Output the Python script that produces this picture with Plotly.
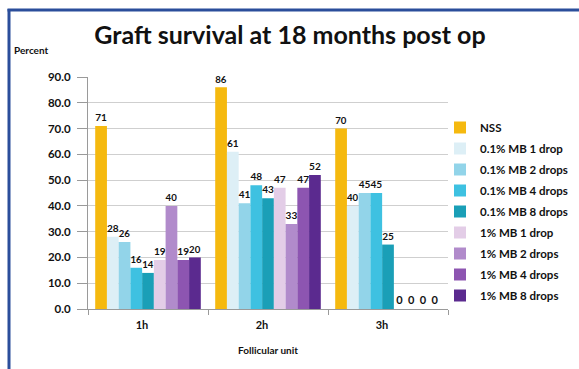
import plotly.graph_objects as go

categories = ["1h", "2h", "3h"]
series_names = ["NSS", "0.1% MB 1 drop", "0.1% MB 2 drops", "0.1% MB 4 drops",
                "0.1% MB 8 drops", "1% MB 1 drop", "1% MB 2 drops",
                "1% MB 4 drops", "1% MB 8 drops"]
nss = [71, 86, 70]
mb01_1 = [28, 61, 40]
mb01_2 = [26, 41, 45]
mb01_4 = [16, 48, 45]
mb01_8 = [14, 43, 25]
mb1_1 = [19, 47, 0]
mb1_2 = [40, 33, 0]
mb1_4 = [19, 47, 0]
mb1_8 = [20, 52, 0]
series_values = [nss, mb01_1, mb01_2, mb01_4, mb01_8, mb1_1, mb1_2, mb1_4, mb1_8]
colors = ["#F5B90F", "#DDEFF6", "#92D4E9", "#3EC1E1", "#1A9FB7",
          "#E3CDE7", "#B18BCB", "#8D55B1", "#5B2A8F"]
y_ticks = [0, 10, 20, 30, 40, 50, 60, 70, 80, 90]

FONT = "Lato"
fig = go.Figure()
for i, (name, vals, col) in enumerate(zip(series_names, series_values, colors)):
    fig.add_trace(go.Bar(
        x=categories, y=vals, name=name, marker=dict(color=col, line=dict(width=0)),
        text=[str(v) for v in vals], textposition="outside", cliponaxis=False,
        textfont=dict(family=FONT, size=11, color="#111111", weight="bold"),
        legendgroup=f"g{i}",
    ))

L, R, T, B = 88, 131, 77, 60
W, H = 579, 369
pw = W - L - R
ph = H - T - B

def px_x(x):
    return (x - L) / pw

def px_y(y):
    return (H - B - y) / ph

fig.update_layout(
    width=W, height=H,
    margin=dict(l=L, r=R, t=T, b=B, autoexpand=False),
    paper_bgcolor="white", plot_bgcolor="white",
    barmode="group", bargap=0.12, bargroupgap=0,
    font=dict(family=FONT, color="#111111"),
    title=dict(text="<b>Graft survival at 18 months post op</b>",
               font=dict(family=FONT, size=25, color="#111111"),
               x=290 / W, xref="container", xanchor="center", y=1 - 35 / H, yanchor="middle"),
    xaxis=dict(showgrid=False, showline=True, linecolor="#9a9a9a", linewidth=1,
               ticks="outside", tickson="boundaries", ticklen=5, tickcolor="#9a9a9a",
               tickfont=dict(family=FONT, size=11, weight="bold"),
               ticklabelstandoff=6, ticklabelshift=-6,
               title=dict(text="<b>Follicular unit</b>", font=dict(family=FONT, size=10),
                          standoff=16)),
    yaxis=dict(range=[0, 90], tickvals=y_ticks, tickformat=".1f",
               showgrid=True, gridcolor="#cfcfcf", gridwidth=1,
               showline=True, linecolor="#9a9a9a", linewidth=1,
               ticks="outside", ticklen=10, tickcolor="#9a9a9a",
               ticklabelstandoff=4,
               tickfont=dict(family=FONT, size=11.5, weight="bold"),
               zeroline=False),
    legend=dict(x=px_x(440), y=px_y(113), xanchor="left", yanchor="top",
                font=dict(family=FONT, size=11.5, weight="bold"),
                tracegroupgap=2, itemwidth=30, bgcolor="rgba(0,0,0,0)"),
    showlegend=True,
)

fig.add_annotation(text="<b>Percent</b>", xref="paper", yref="paper",
                   x=px_x(12), y=px_y(50), xanchor="left", yanchor="middle",
                   showarrow=False, font=dict(family=FONT, size=10, color="#111111"))

border = "#2B4E9B"
fig.add_shape(type="line", xref="paper", yref="paper",
              x0=px_x(9), x1=px_x(9), y0=px_y(9), y1=px_y(372),
              line=dict(color=border, width=3))
fig.add_shape(type="line", xref="paper", yref="paper",
              x0=px_x(7.5), x1=px_x(582), y0=px_y(10), y1=px_y(10),
              line=dict(color=border, width=3))

fig.write_html("out.html")
